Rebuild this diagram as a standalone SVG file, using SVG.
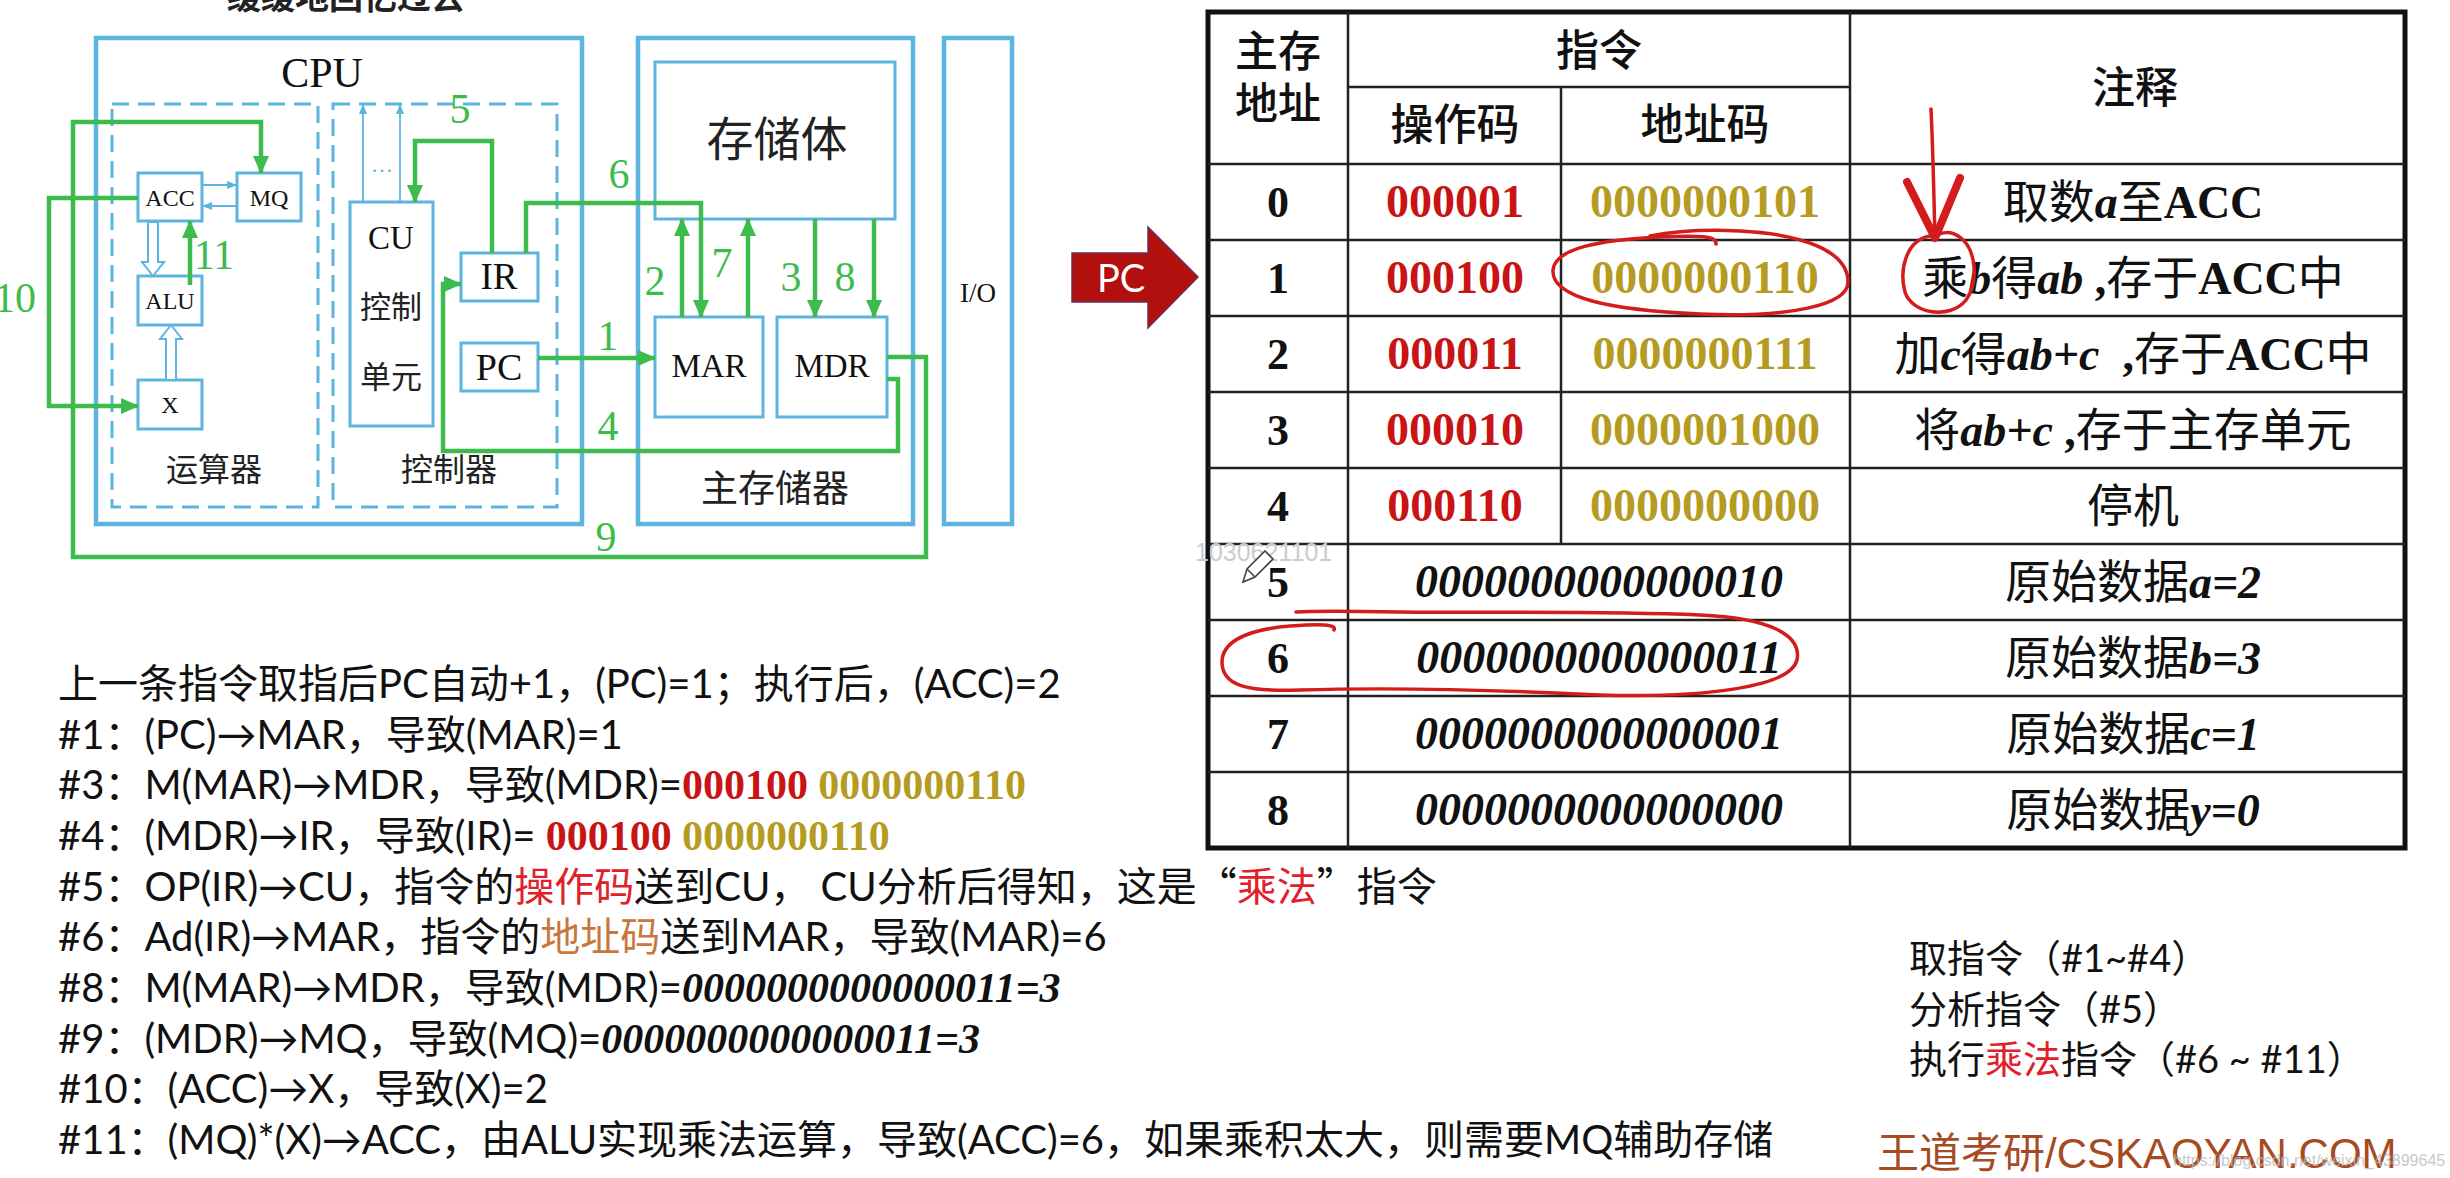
<svg xmlns="http://www.w3.org/2000/svg" width="2450" height="1178" viewBox="0 0 2450 1178">
<defs>
<style>
.bx{fill:none;stroke:#5cb5de;stroke-width:3}
.bo{fill:none;stroke:#5cb5de;stroke-width:4.5}
.bd{fill:none;stroke:#5cb5de;stroke-width:3;stroke-dasharray:17 9}
.bt{fill:none;stroke:#5cb5de;stroke-width:1.8}
.hol{fill:#fff;stroke:#5cb5de;stroke-width:2}
.gw{fill:none;stroke:#3dbb4c;stroke-width:4.5}
.gn{font-family:"Liberation Serif",serif;font-size:42px;fill:#3dbb4c;text-anchor:middle}
.sr{font-family:"Liberation Serif",serif;fill:#111;text-anchor:middle}
.cj{font-family:"Noto Sans CJK SC",sans-serif;fill:#222;text-anchor:middle}
.tl{stroke:#222;stroke-width:2.5}
.tb{fill:none;stroke:#111;stroke-width:5}
.hd{font-family:"Noto Sans CJK SC",sans-serif;font-size:43px;font-weight:500;fill:#111;text-anchor:middle}
.ad{font-family:"Liberation Serif",serif;font-weight:bold;font-size:44px;fill:#111;text-anchor:middle}
.op{font-family:"Liberation Serif",serif;font-weight:bold;font-size:46px;fill:#c81414;text-anchor:middle}
.ac{font-family:"Liberation Serif",serif;font-weight:bold;font-size:46px;fill:#b59b22;text-anchor:middle}
.dt{font-family:"Liberation Serif",serif;font-weight:bold;font-style:italic;font-size:46px;fill:#111;text-anchor:middle}
.cm{font-family:"Noto Sans CJK SC",sans-serif;font-size:46px;fill:#111;text-anchor:middle}
.b{font-family:"Liberation Serif",serif;font-weight:bold}
.bi{font-family:"Liberation Serif",serif;font-weight:bold;font-style:italic}
.tx{font-family:Lato,"Noto Sans CJK SC",sans-serif;font-size:40px;fill:#111}
.q{font-family:"Noto Sans CJK SC",sans-serif}
.rd{fill:#e0202a}
.or{fill:#c8783c}
.rb{font-family:"Liberation Serif",serif;font-weight:bold;fill:#c81414;font-size:42px}
.gb{font-family:"Liberation Serif",serif;font-weight:bold;fill:#b59b22;font-size:42px}
.hand{fill:none;stroke:#d41c1c;stroke-width:3.5;stroke-linecap:round;stroke-linejoin:round}
.head{fill:none;stroke:#d41c1c;stroke-width:8;stroke-linecap:round;stroke-linejoin:round}
</style>
<marker id="ga" markerWidth="18" markerHeight="16" refX="17" refY="8" orient="auto" markerUnits="userSpaceOnUse"><path d="M0,0 L18,8 L0,16 Z" fill="#3dbb4c"/></marker>
<marker id="ba" markerWidth="10" markerHeight="8" refX="9" refY="4" orient="auto" markerUnits="userSpaceOnUse"><path d="M0,0 L10,4 L0,8 Z" fill="#5cb5de"/></marker>
</defs>
<rect width="2450" height="1178" fill="#fff"/>

<text x="346" y="9" class="cj" font-size="34" font-weight="bold" fill="#222">缓缓地回忆过去</text>

<g id="cpu">
<rect class="bo" x="96" y="38" width="486" height="486"/>
<text class="sr" x="322" y="87" font-size="42">CPU</text>
</g>
<g id="alu-unit">
<rect class="bd" x="112" y="104" width="206" height="403"/>
<text class="cj" x="214" y="481" font-size="32">运算器</text>
</g>
<g id="ctrl-unit">
<rect class="bd" x="333" y="104" width="224" height="403"/>
<text class="cj" x="449" y="481" font-size="32">控制器</text>
</g>
<g id="acc"><rect class="bx" x="138" y="173" width="64" height="48"/><text class="sr" x="170" y="206" font-size="24">ACC</text></g>
<g id="mq"><rect class="bx" x="237" y="173" width="64" height="48"/><text class="sr" x="269" y="206" font-size="24">MQ</text></g>
<g id="alu"><rect class="bx" x="138" y="276" width="64" height="49"/><text class="sr" x="170" y="309" font-size="24">ALU</text></g>
<g id="x"><rect class="bx" x="138" y="380" width="64" height="49"/><text class="sr" x="170" y="413" font-size="24">X</text></g>
<g id="cu">
<rect class="bx" x="350" y="202" width="83" height="224"/>
<text class="sr" x="391" y="249" font-size="33">CU</text>
<text class="cj" x="391" y="318" font-size="31">控制</text>
<text class="cj" x="391" y="388" font-size="31">单元</text>
</g>
<g id="ir"><rect class="bx" x="461" y="253" width="77" height="48"/><text class="sr" x="499" y="289" font-size="37">IR</text></g>
<g id="pc"><rect class="bx" x="461" y="343" width="77" height="48"/><text class="sr" x="499" y="380" font-size="38">PC</text></g>
<g id="mem">
<rect class="bo" x="638" y="38" width="275" height="486"/>
<text class="cj" x="775" y="502" font-size="37">主存储器</text>
</g>
<g id="storage"><rect class="bx" x="655" y="62" width="240" height="157"/><text class="cj" x="777" y="156" font-size="47">存储体</text></g>
<g id="mar"><rect class="bx" x="655" y="317" width="108" height="100"/><text class="sr" x="709" y="377" font-size="33">MAR</text></g>
<g id="mdr"><rect class="bx" x="777" y="317" width="110" height="100"/><text class="sr" x="832" y="377" font-size="33">MDR</text></g>
<g id="io"><rect class="bo" x="944" y="38" width="68" height="486"/><text class="sr" x="978" y="302" font-size="27">I/O</text></g>

<g id="connectors">
<path class="bt" d="M202,185 H236" marker-end="url(#ba)"/>
<path class="bt" d="M237,206 H203" marker-end="url(#ba)"/>
<path class="bt" d="M363,202 V105" marker-end="url(#ba)"/>
<path class="bt" d="M400,202 V105" marker-end="url(#ba)"/>
<text x="382" y="172" font-family="Liberation Serif,serif" font-size="22" fill="#5cb5de" text-anchor="middle">…</text>
<polygon class="hol" points="148,222 158,222 158,262 164,262 153,276 142,262 148,262"/>
<polygon class="hol" points="166,380 176,380 176,339 182,339 171,325 160,339 166,339"/>
<path class="gw" d="M538,358 H655" marker-end="url(#ga)"/>
<path class="gw" d="M682,317 V219" marker-end="url(#ga)"/>
<path class="gw" d="M815,219 V317" marker-end="url(#ga)"/>
<path class="gw" d="M887,379 H898 V451 H443 V284 H461" marker-end="url(#ga)"/>
<path class="gw" d="M492,253 V141 H415 V202" marker-end="url(#ga)"/>
<path class="gw" d="M526,253 V203 H701 V317" marker-end="url(#ga)"/>
<path class="gw" d="M748,317 V219" marker-end="url(#ga)"/>
<path class="gw" d="M874,219 V317" marker-end="url(#ga)"/>
<path class="gw" d="M887,357 H926 V557 H73 V122 H261 V173" marker-end="url(#ga)"/>
<path class="gw" d="M138,198 H49 V406 H138" marker-end="url(#ga)"/>
<path class="gw" d="M190,285 V221" marker-end="url(#ga)"/>
<text class="gn" x="608" y="350">1</text>
<text class="gn" x="655" y="295">2</text>
<text class="gn" x="791" y="291">3</text>
<text class="gn" x="608" y="440">4</text>
<text class="gn" x="460" y="123">5</text>
<text class="gn" x="619" y="188">6</text>
<text class="gn" x="722" y="277">7</text>
<text class="gn" x="845" y="291">8</text>
<text class="gn" x="606" y="551">9</text>
<text class="gn" x="15" y="312">10</text>
<text class="gn" x="214" y="269">11</text>
</g>

<g id="pc-arrow">
<polygon points="1072,253 1148,253 1148,227 1198,277 1148,328 1148,302 1072,302" fill="#b20f0f" stroke="#6a3052" stroke-width="1.5"/>
<text x="1121" y="292" font-family="Lato,sans-serif" font-size="38" fill="#fff" text-anchor="middle">PC</text>
</g>

<g id="table">
<rect class="tb" x="1208" y="12" width="1197" height="836"/>
<line class="tl" x1="1348" y1="87" x2="1850" y2="87"/>
<line class="tl" x1="1208" y1="164" x2="2405" y2="164"/>
<line class="tl" x1="1208" y1="240" x2="2405" y2="240"/>
<line class="tl" x1="1208" y1="316" x2="2405" y2="316"/>
<line class="tl" x1="1208" y1="392" x2="2405" y2="392"/>
<line class="tl" x1="1208" y1="468" x2="2405" y2="468"/>
<line class="tl" x1="1208" y1="544" x2="2405" y2="544"/>
<line class="tl" x1="1208" y1="620" x2="2405" y2="620"/>
<line class="tl" x1="1208" y1="696" x2="2405" y2="696"/>
<line class="tl" x1="1208" y1="772" x2="2405" y2="772"/>
<line class="tl" x1="1348" y1="12" x2="1348" y2="848"/>
<line class="tl" x1="1561" y1="87" x2="1561" y2="544"/>
<line class="tl" x1="1850" y1="12" x2="1850" y2="848"/>
<text class="hd" x="1278" y="67">主存</text>
<text class="hd" x="1278" y="119">地址</text>
<text class="hd" x="1599" y="66">指令</text>
<text class="hd" x="1455" y="140">操作码</text>
<text class="hd" x="1705" y="140">地址码</text>
<text class="hd" x="2135" y="103">注释</text>
<text class="ad" x="1278" y="217">0</text>
<text class="ad" x="1278" y="293">1</text>
<text class="ad" x="1278" y="369">2</text>
<text class="ad" x="1278" y="445">3</text>
<text class="ad" x="1278" y="521">4</text>
<text class="ad" x="1278" y="597">5</text>
<text class="ad" x="1278" y="673">6</text>
<text class="ad" x="1278" y="749">7</text>
<text class="ad" x="1278" y="825">8</text>
<text class="op" x="1455" y="217">000001</text>
<text class="op" x="1455" y="293">000100</text>
<text class="op" x="1455" y="369">000011</text>
<text class="op" x="1455" y="445">000010</text>
<text class="op" x="1455" y="521">000110</text>
<text class="ac" x="1705" y="217">0000000101</text>
<text class="ac" x="1705" y="293">0000000110</text>
<text class="ac" x="1705" y="369">0000000111</text>
<text class="ac" x="1705" y="445">0000001000</text>
<text class="ac" x="1705" y="521">0000000000</text>
<text class="dt" x="1599" y="597">0000000000000010</text>
<text class="dt" x="1599" y="673">0000000000000011</text>
<text class="dt" x="1599" y="749">0000000000000001</text>
<text class="dt" x="1599" y="825">0000000000000000</text>
<text class="cm" x="2133" y="218">取数<tspan class="bi">a</tspan>至<tspan class="b">ACC</tspan></text>
<text class="cm" x="2133" y="294">乘<tspan class="bi">b</tspan>得<tspan class="bi">ab</tspan><tspan class="b"> ,</tspan>存于<tspan class="b">ACC</tspan>中</text>
<text class="cm" x="2133" y="370">加<tspan class="bi">c</tspan>得<tspan class="bi">ab+c</tspan><tspan class="b" xml:space="preserve">  ,</tspan>存于<tspan class="b">ACC</tspan>中</text>
<text class="cm" x="2133" y="446">将<tspan class="bi">ab+c</tspan><tspan class="b"> ,</tspan>存于主存单元</text>
<text class="cm" x="2133" y="522">停机</text>
<text class="cm" x="2133" y="598">原始数据<tspan class="bi">a=2</tspan></text>
<text class="cm" x="2133" y="674">原始数据<tspan class="bi">b=3</tspan></text>
<text class="cm" x="2133" y="750">原始数据<tspan class="bi">c=1</tspan></text>
<text class="cm" x="2133" y="826">原始数据<tspan class="bi">y=0</tspan></text>
</g>

<g id="annotations">
<path class="hand" d="M1716,244 C1717,236 1700,235 1660,237 C1600,240 1555,248 1553,270 C1551,298 1610,310 1700,314 C1790,318 1848,305 1848,282 C1848,250 1800,234 1740,231 C1700,229 1670,232 1650,236"/>
<path class="hand" d="M1931,109 C1933,150 1934,200 1935,240"/>
<path class="head" d="M1907,182 L1935,238 L1960,178"/>
<path class="hand" d="M1930,236 C1906,240 1899,270 1905,292 C1912,314 1950,320 1966,300 C1979,282 1976,250 1961,238 C1951,230 1941,232 1934,237"/>
<path class="hand" d="M1334,630 C1337,624 1320,624 1290,626 C1240,630 1222,645 1222,662 C1222,685 1245,692 1300,690 C1400,687 1500,690 1600,695 C1700,698 1790,688 1797,660 C1802,635 1770,618 1700,615 C1600,611 1500,613 1400,612 C1350,611 1310,611 1296,612"/>
<text x="1195" y="561" font-family="Liberation Sans,sans-serif" font-size="25" fill="#cccccc">1030621101</text>
<path d="M1243,582 L1247,569 L1265,551 L1273,559 L1255,577 Z M1247,569 L1255,577" fill="#fff" stroke="#444" stroke-width="1.6"/>
</g>

<g id="steps" class="tx">
<text x="58" y="698">上一条指令取指后PC自动+1，(PC)=1；执行后，(ACC)=2</text>
<text x="58" y="749">#1：(PC)→MAR，导致(MAR)=1</text>
<text x="58" y="799">#3：M(MAR)→MDR，导致(MDR)=<tspan class="rb">000100</tspan> <tspan class="gb">0000000110</tspan></text>
<text x="58" y="850">#4：(MDR)→IR，导致(IR)= <tspan class="rb">000100</tspan> <tspan class="gb">0000000110</tspan></text>
<text x="58" y="901">#5：OP(IR)→CU，指令的<tspan class="rd">操作码</tspan>送到CU， CU分析后得知，这是<tspan class="q">“</tspan><tspan class="rd">乘法</tspan><tspan class="q">”</tspan>指令</text>
<text x="58" y="951">#6：Ad(IR)→MAR，指令的<tspan class="or">地址码</tspan>送到MAR，导致(MAR)=6</text>
<text x="58" y="1002">#8：M(MAR)→MDR，导致(MDR)=<tspan class="bi" font-size="42">0000000000000011=3</tspan></text>
<text x="58" y="1053">#9：(MDR)→MQ，导致(MQ)=<tspan class="bi" font-size="42">0000000000000011=3</tspan></text>
<text x="58" y="1103">#10：(ACC)→X，导致(X)=2</text>
<text x="58" y="1154">#11：(MQ)*(X)→ACC，由ALU实现乘法运算，导致(ACC)=6，如果乘积太大，则需要MQ辅助存储</text>
</g>

<g id="summary" class="tx" font-size="38">
<text x="1909" y="972" font-size="38">取指令（#1~#4）</text>
<text x="1909" y="1023" font-size="38">分析指令（#5）</text>
<text x="1909" y="1073" font-size="38">执行<tspan class="rd">乘法</tspan>指令（#6 ~ #11）</text>
</g>

<g id="brand">
<text x="1877" y="1168" font-family="Liberation Sans,'Noto Sans CJK SC',sans-serif" font-size="42" fill="#a64a22">王道考研/CSKAOYAN.COM</text>
<text x="2173" y="1166" font-family="Liberation Sans,sans-serif" font-size="16" fill="#bbbbbb" opacity="0.8">https://blog.csdn.net/weixin_43899645</text>
</g>
</svg>
